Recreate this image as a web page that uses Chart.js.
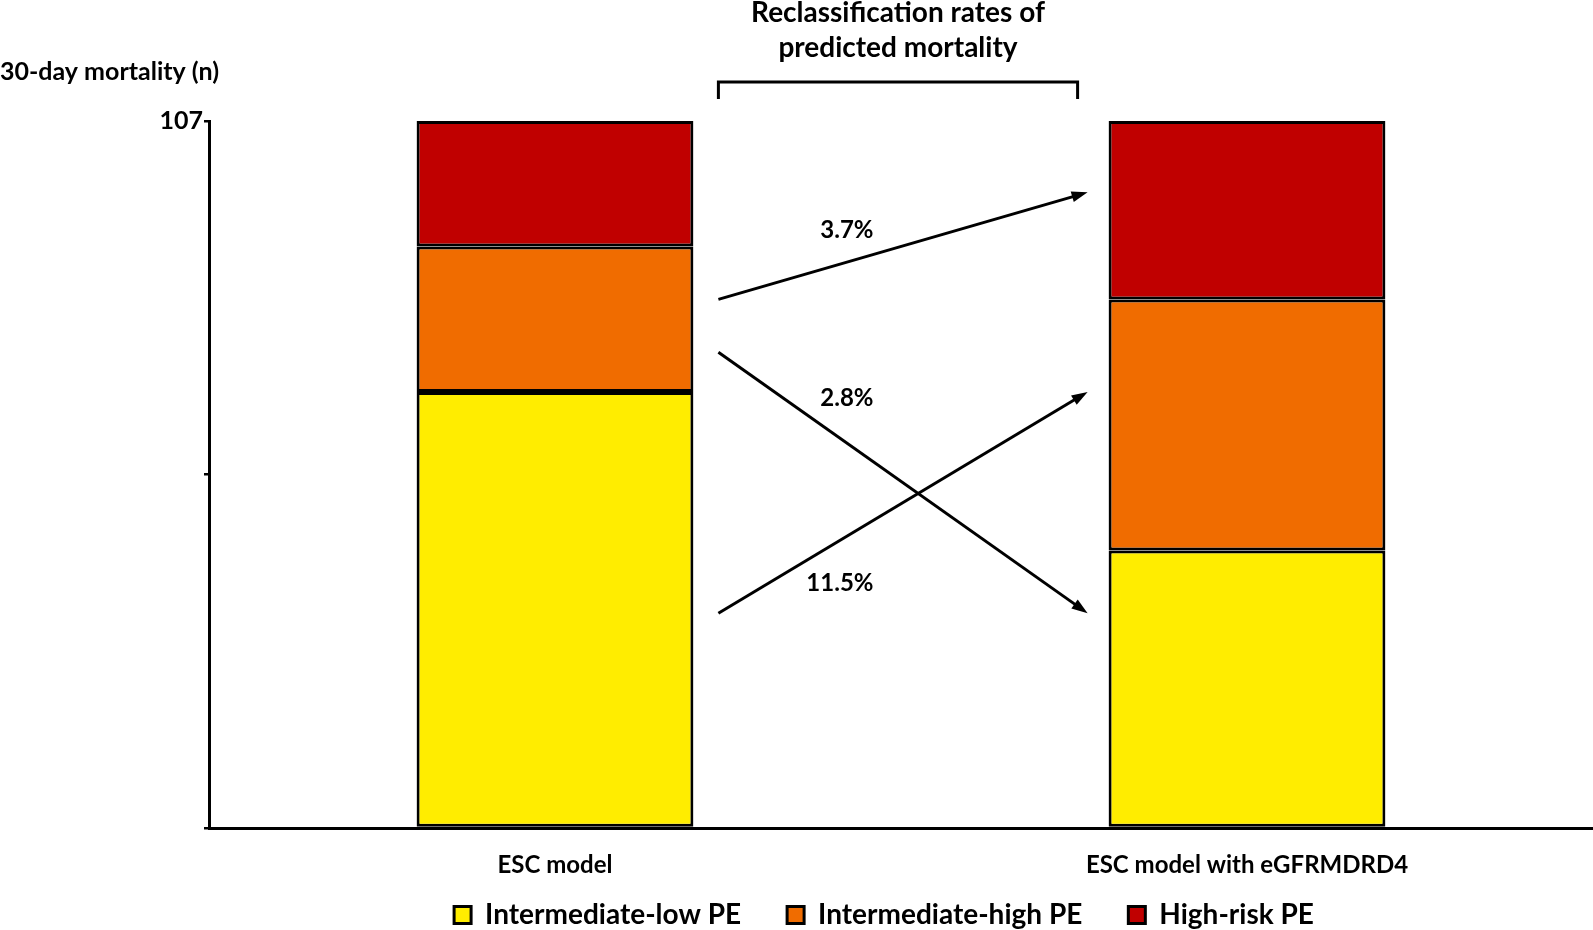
<!DOCTYPE html>
<html>
<head>
<meta charset="utf-8">
<script src="https://cdn.jsdelivr.net/npm/chart.js@4.4.0/dist/chart.umd.min.js"></script>
<style>
    html, body { margin: 0; padding: 0; background: #fff; }
    canvas { display: block; }
</style>
</head>
<body>
<canvas id="mortalityChart" width="1593" height="930"></canvas>
<script>
var models = ['ESC model', 'ESC model with eGFRMDRD4'];
var riskGroups = ['Intermediate-low PE', 'Intermediate-high PE', 'High-risk PE'];
var intermediateLow = [66, 42];
var intermediateHigh = [22, 38];
var highRisk = [19, 27];
var groupColors = ['#FFED00', '#F06C00', '#C00000'];
var yMax = 107;
var yTicks = [0, 53.5, 107];

// reclassification arrows, in y units: start at ESC model side, end at eGFR side
var shiftLabels = ['3.7%', '2.8%', '11.5%'];
var shiftFrom = [80, 72, 32.5];
var shiftTo = [96.2, 32.5, 66];
var shiftLabelY = [90.5, 65, 37];

(function () {
    var FONT = "Lato, 'Open Sans', sans-serif";
    var LEGEND_PAD = 46;

    // arrows, bracket and the free text around the plot
    var annotations = {
        id: 'annotations',
        afterLayout: function (chart) {
            // legend sits a bit lower/left than Chart.js would put it
            var lg = chart.legend;
            lg.top = lg.bottom - 75;
            lg.left -= 34;
        },
        afterDraw: function (chart) {
            var ctx = chart.ctx, y = chart.scales.y, area = chart.chartArea;
            var bars = chart.getDatasetMeta(0).data;
            var x0 = bars[0].x + bars[0].width / 2 + 25;
            var x1 = bars[1].x - bars[1].width / 2 - 21;
            ctx.save();
            ctx.strokeStyle = '#000';
            ctx.fillStyle = '#000';
            ctx.lineWidth = 3;
            ctx.textBaseline = 'middle';
            for (var i = 0; i < shiftLabels.length; i++) {
                var ya = y.getPixelForValue(shiftFrom[i]);
                var yb = y.getPixelForValue(shiftTo[i]);
                var ang = Math.atan2(yb - ya, x1 - x0);
                var c = Math.cos(ang), s = Math.sin(ang);
                ctx.beginPath();
                ctx.moveTo(x0, ya);
                ctx.lineTo(x1 - 8 * c, yb - 8 * s);
                ctx.stroke();
                ctx.beginPath();
                ctx.moveTo(x1, yb);
                ctx.lineTo(x1 - 16 * c + 5.5 * s, yb - 16 * s - 5.5 * c);
                ctx.lineTo(x1 - 16 * c - 5.5 * s, yb - 16 * s + 5.5 * c);
                ctx.closePath();
                ctx.fill();
                ctx.font = 'bold 24px ' + FONT;
                ctx.textAlign = 'right';
                ctx.fillText(shiftLabels[i], x0 + (x1 - x0) * 0.42, y.getPixelForValue(shiftLabelY[i]));
            }

            var bx1 = x1 - 10;
            ctx.lineWidth = 3;
            ctx.beginPath();
            ctx.moveTo(x0, area.top - 22);
            ctx.lineTo(x0, area.top - 39);
            ctx.lineTo(bx1, area.top - 39);
            ctx.lineTo(bx1, area.top - 22);
            ctx.stroke();

            ctx.font = 'bold 28px ' + FONT;
            ctx.textAlign = 'center';
            ctx.fillText('Reclassification rates of', (x0 + bx1) / 2, 13);
            ctx.fillText('predicted mortality', (x0 + bx1) / 2, 48);

            ctx.font = 'bold 25px ' + FONT;
            ctx.textAlign = 'left';
            ctx.fillText('30-day mortality (n)', 0, 72);
            ctx.restore();
        }
    };

    var values = [intermediateLow, intermediateHigh, highRisk];
    var datasets = riskGroups.map(function (name, i) {
        return {
            label: name,
            data: values[i],
            backgroundColor: groupColors[i],
            borderColor: '#000',
            borderWidth: 3,
            borderSkipped: false,
            barPercentage: 0.4,
            categoryPercentage: 1
        };
    });

    new Chart(document.getElementById('mortalityChart'), {
        type: 'bar',
        data: { labels: models, datasets: datasets },
        plugins: [annotations],
        options: {
            responsive: false,
            animation: false,
            devicePixelRatio: 1,
            layout: { padding: { top: 121, left: 0, right: 0, bottom: 0 } },
            plugins: {
                tooltip: { enabled: false },
                legend: {
                    position: 'bottom',
                    fullSize: false,
                    maxHeight: 50,
                    labels: {
                        color: '#000',
                        boxWidth: 17,
                        boxHeight: 17,
                        padding: LEGEND_PAD,
                        font: { family: FONT, size: 28, weight: 'bold' }
                    }
                }
            },
            scales: {
                x: {
                    stacked: true,
                    grid: { display: false },
                    border: { color: '#000', width: 3 },
                    ticks: { color: '#000', padding: 15, font: { family: FONT, size: 24, weight: 'bold' } },
                    afterFit: function (s) { s.height = 52; }
                },
                y: {
                    stacked: true,
                    min: 0,
                    max: yMax,
                    afterBuildTicks: function (axis) {
                        axis.ticks = yTicks.map(function (v) { return { value: v }; });
                    },
                    grid: { drawOnChartArea: false, color: '#000', lineWidth: 2.5, tickLength: 5 },
                    border: { color: '#000', width: 3 },
                    ticks: {
                        color: '#000',
                        padding: 1,
                        font: { family: FONT, size: 25, weight: 'bold' },
                        callback: function (v) { return v === yMax ? String(yMax) : ''; }
                    },
                    afterFit: function (s) { s.width = 209; }
                }
            }
        }
    });
})();
</script>
</body>
</html>
